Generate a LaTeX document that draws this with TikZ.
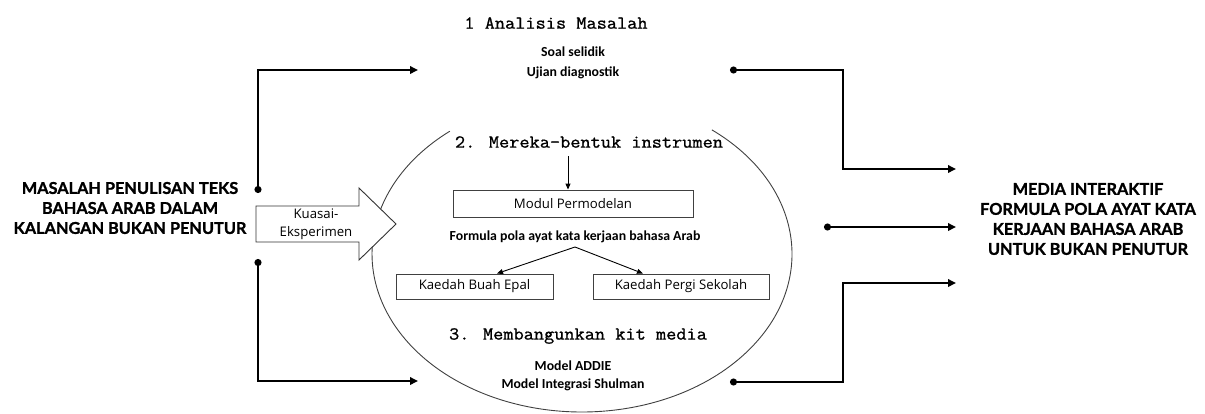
\documentclass[tikz,border=0pt]{standalone}
\usepackage{fontspec}
\setmainfont{Open Sans}
\newfontfamily\latofont[BoldFeatures={FakeBold=1.2}]{Lato}
\newfontfamily\condfont{Carlito}
\newfontfamily\monofont[FakeStretch=1.08,FakeBold=1]{Latin Modern Mono}
\usetikzlibrary{arrows.meta}
\begin{document}
\begin{tikzpicture}[x=1pt,y=-1pt,
  conn/.style={line width=1.8pt,{Circle[length=7pt]}-{Triangle[length=8pt,width=7.5pt]}},
  thinarrow/.style={line width=0.9pt,-{Triangle[length=6pt,width=5pt]}},
  bigtitle/.style={font=\latofont\bfseries\fontsize{16.3}{20}\selectfont,align=center,inner sep=0pt},
  steptitle/.style={font=\monofont\fontsize{18.3}{20}\selectfont,inner sep=0pt},
  condtext/.style={font=\condfont\bfseries\fontsize{13.8}{20}\selectfont,align=center,inner sep=0pt},
  boxtext/.style={draw=black!75,line width=0.9pt,font=\fontsize{13.2}{16}\selectfont,inner sep=0pt},
]
\useasboundingbox (0,0) rectangle (1205,413);
% ellipse
\coordinate (ec) at (582,254);
\draw[black!75,line width=0.9pt] ([shift={(308.2:210 and 158)}]ec) arc[start angle=308.2,end angle=591,x radius=210,y radius=158];
% big arrow
\draw[black!80,line width=0.9pt,fill=white] (256,206) -- (359,206) -- (359,188) -- (396,224) -- (359,260) -- (359,242) -- (256,242) -- cycle;
\node[font=\fontsize{13.2}{18}\selectfont,align=center,inner sep=0pt] (kuasai) at (316,224) {Kuasai-\\Eksperimen};
% titles
\node[bigtitle] (src) at (130,208) {MASALAH PENULISAN TEKS\\BAHASA ARAB DALAM\\KALANGAN BUKAN PENUTUR};
\node[bigtitle] (dst) at (1088,219) {MEDIA INTERAKTIF\\FORMULA POLA AYAT KATA\\KERJAAN BAHASA ARAB\\UNTUK BUKAN PENUTUR};
% step 1
\node[steptitle] (s1) at (556,23) {1 Analisis Masalah};
\node[condtext] (s1items) at (573,63) {Soal selidik\\Ujian diagnostik};
% step 2
\node[steptitle] (s2) at (589,142) {2. Mereka-bentuk instrumen};
\node[boxtext,minimum width=240pt,minimum height=27pt] (modul) at (573,203.5) {Modul Permodelan};
\node[condtext] (formula) at (575,237) {Formula pola ayat kata kerjaan bahasa Arab};
\node[boxtext,minimum width=157pt,minimum height=25pt] (epal) at (474.5,286.5) {Kaedah Buah Epal};
\node[boxtext,minimum width=176pt,minimum height=25pt] (pergi) at (681,286.5) {Kaedah Pergi Sekolah};
% step 3
\node[steptitle] (s3) at (578,336) {3. Membangunkan kit media};
\node[condtext,font=\condfont\bfseries\fontsize{13.8}{18.5}\selectfont] (model) at (573,376) {Model ADDIE\\Model Integrasi Shulman};
% inner arrows
\coordinate (fsplit) at (575,247);
\draw[thinarrow] (568,156) -- (modul.north -| 568,0);
\draw[thinarrow] (fsplit) -- (497,273.5);
\draw[thinarrow] (fsplit) -- (643,273.5);
% left connectors
\coordinate (lt0) at (258,193);
\coordinate (lt1) at (258,70);
\coordinate (lt2) at (418,70);
\draw[conn] (lt0) -- (lt1) -- (lt2);
\coordinate (lb0) at (258,259);
\coordinate (lb1) at (258,381);
\coordinate (lb2) at (418,381);
\draw[conn] (lb0) -- (lb1) -- (lb2);
% right connectors
\coordinate (rt0) at (730,70);
\coordinate (rt1) at (843,70);
\coordinate (rt2) at (843,169);
\coordinate (rt3) at (956,169);
\draw[conn] (rt0) -- (rt1) -- (rt2) -- (rt3);
\coordinate (rm0) at (824,227);
\coordinate (rm1) at (956,227);
\draw[conn] (rm0) -- (rm1);
\coordinate (rb0) at (730,382);
\coordinate (rb1) at (843,382);
\coordinate (rb2) at (843,283);
\coordinate (rb3) at (956,283);
\draw[conn] (rb0) -- (rb1) -- (rb2) -- (rb3);
\end{tikzpicture}
\end{document}
